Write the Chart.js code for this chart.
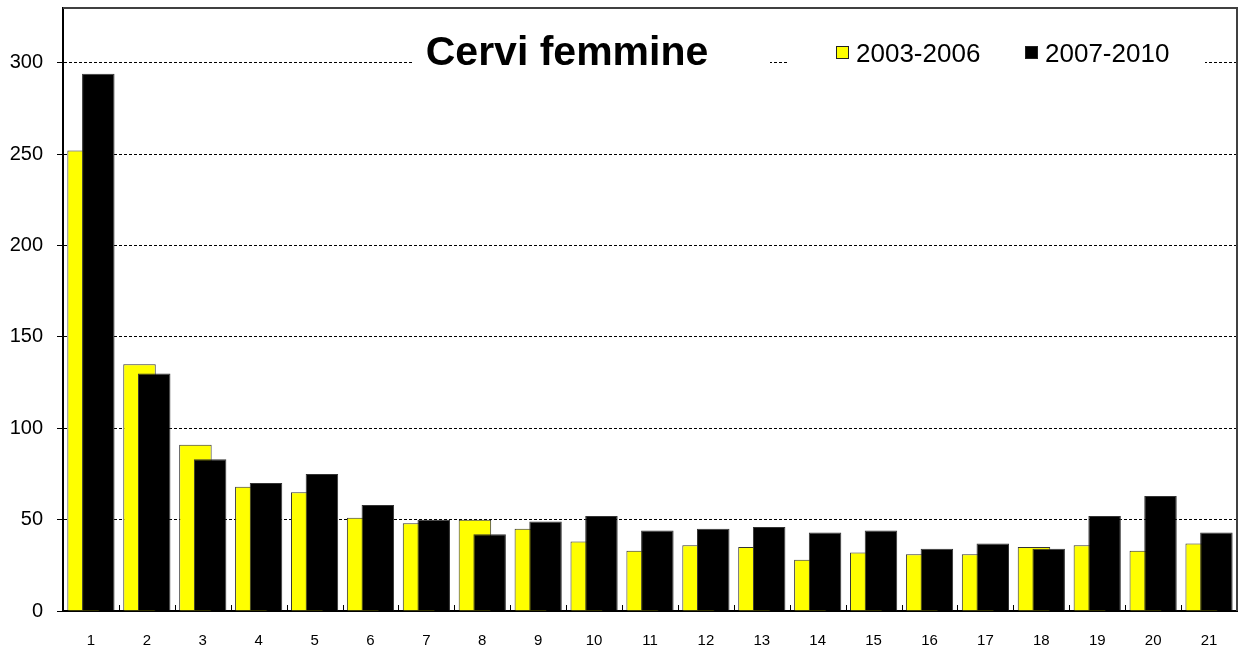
<!DOCTYPE html>
<html>
<head>
<meta charset="utf-8">
<title>Cervi femmine</title>
<script src="https://cdn.jsdelivr.net/npm/chart.js@4/dist/chart.umd.min.js"></script>
<style>
  html, body { margin: 0; padding: 0; background: #fff; }
</style>
</head>
<body>
<canvas id="chart" width="1239" height="650"></canvas>
<script>
const categories = ["1", "2", "3", "4", "5", "6", "7", "8", "9", "10", "11",
  "12", "13", "14", "15", "16", "17", "18", "19", "20", "21"];
const seriesLabels = ["2003-2006", "2007-2010"];
const values2003 = [252, 135, 91, 68, 65, 51, 48, 50, 45, 38, 33,
  36, 35, 28, 32, 31, 31, 35, 36, 33, 37];
const values2007 = [294, 130, 83, 70, 75, 58, 50, 42, 49, 52, 44,
  45, 46, 43, 44, 34, 37, 34, 52, 63, 43];
const yTicks = [0, 50, 100, 150, 200, 250, 300];
const chartTitle = "Cervi femmine";

const FONT = "'Liberation Sans', Arial, sans-serif";

// frame, inward x ticks, title and legend drawn over the plot area
const overlay = {
  id: "overlay",
  // yellow goes left of black but black must sit on top of it
  beforeDatasetDraw(chart, args) {
    if (args.index === 0) return false;
    if (args.index === 1) chart.getDatasetMeta(0).controller.draw();
  },
  afterDraw(chart) {
    const { ctx, chartArea: a } = chart;
    const x = chart.scales.x;
    ctx.save();

    ctx.strokeStyle = "#404040";
    ctx.lineWidth = 2;
    ctx.beginPath();
    ctx.moveTo(a.left, a.top);
    ctx.lineTo(a.right, a.top);
    ctx.lineTo(a.right, a.bottom);
    ctx.stroke();

    ctx.strokeStyle = "#000";
    ctx.lineWidth = 1;
    for (let i = 1; i < categories.length; i++) {
      const px = Math.round((x.getPixelForValue(i - 1) + x.getPixelForValue(i)) / 2) + 0.5;
      ctx.beginPath();
      ctx.moveTo(px, a.bottom);
      ctx.lineTo(px, a.bottom - 6);
      ctx.stroke();
    }

    // title box
    ctx.fillStyle = "#fff";
    ctx.fillRect(412, 24, 358, 56);
    ctx.fillStyle = "#000";
    ctx.font = "bold 41px " + FONT;
    ctx.textAlign = "center";
    ctx.textBaseline = "alphabetic";
    ctx.fillText(chartTitle, 567, 65);

    // legend box
    ctx.fillStyle = "#fff";
    ctx.fillRect(789, 30, 416, 46);
    ctx.font = "26px " + FONT;
    ctx.textAlign = "left";
    const itemX = [836, 1025];
    chart.data.datasets.forEach((ds, i) => {
      ctx.fillStyle = ds.backgroundColor;
      ctx.fillRect(itemX[i] + 0.5, 46.5, 12, 12);
      ctx.strokeStyle = "#222";
      ctx.lineWidth = 1;
      ctx.strokeRect(itemX[i] + 0.5, 46.5, 12, 12);
      ctx.fillStyle = "#000";
      ctx.fillText(ds.label, itemX[i] + 20, 62);
    });

    ctx.restore();
  }
};

new Chart(document.getElementById("chart").getContext("2d"), {
  type: "bar",
  data: {
    labels: categories,
    datasets: [
      {
        label: seriesLabels[0],
        data: values2003,
        backgroundColor: "#ffff00",
        borderColor: "#333",
        borderWidth: 1
      },
      {
        label: seriesLabels[1],
        data: values2007,
        backgroundColor: "#000000",
        borderColor: "#333",
        borderWidth: 1
      }
    ]
  },
  options: {
    responsive: false,
    animation: false,
    devicePixelRatio: 1,
    categoryPercentage: 0.526,
    barPercentage: 2.21,
    layout: { padding: { top: 8, right: 2, left: 9, bottom: 0 } },
    plugins: {
      legend: { display: false },
      title: { display: false },
      tooltip: { enabled: false }
    },
    scales: {
      x: {
        afterFit: (s) => { s.paddingLeft = 0; s.paddingRight = 0; s.height = 39; },
        grid: { display: false, drawTicks: false },
        border: { display: true, color: "#000", width: 2 },
        ticks: { color: "#000", padding: 21, maxRotation: 0, font: { family: FONT, size: 15 } }
      },
      y: {
        min: 0,
        max: 330,
        afterBuildTicks: (s) => { s.ticks = yTicks.map((v) => ({ value: v })); },
        afterFit: (s) => { s.paddingTop = 0; s.paddingBottom = 0; s.width = 54; },
        grid: { color: "#000", lineWidth: 1, tickLength: 6, tickColor: "#000" },
        border: { display: true, color: "#000", width: 2, dash: [3, 2] },
        ticks: { color: "#000", padding: 14, font: { family: FONT, size: 20 } }
      }
    }
  },
  plugins: [overlay]
});
</script>
</body>
</html>
